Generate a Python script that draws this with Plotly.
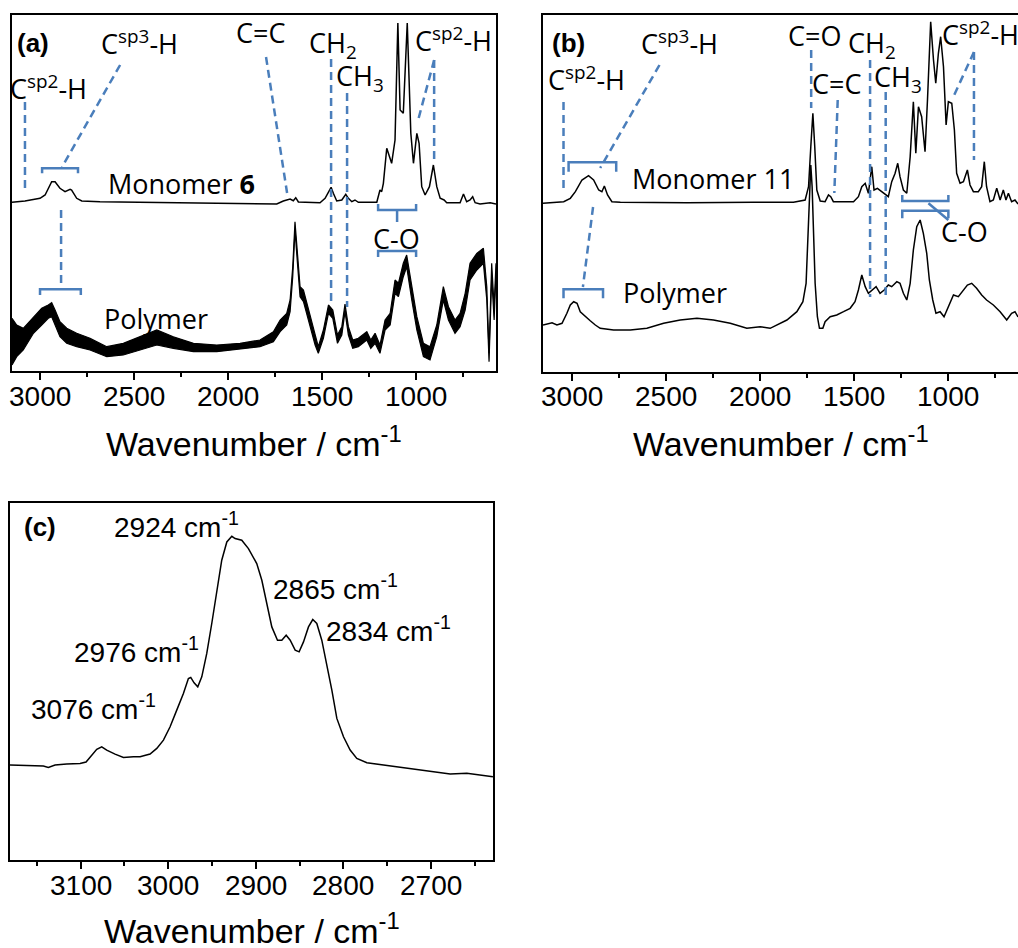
import plotly.graph_objects as go

# ---------------- data (intensity in arbitrary units) ----------------
# Panel (a)
a_mono_wn = [3149, 3080, 3000, 2973, 2938, 2920, 2894, 2867, 2840, 2832, 2805, 2778, 2681, 2326, 1972,
             1741, 1706, 1670, 1653, 1640, 1626, 1511, 1484, 1466, 1452, 1440, 1422, 1395, 1374, 1360,
             1342, 1325, 1307, 1209, 1192, 1183, 1174, 1156, 1142, 1130, 1112, 1097, 1085, 1068, 1047,
             1028, 1014, 996, 984, 970, 952, 929, 908, 890, 872, 851, 837, 766, 748, 731, 713, 699, 686,
             660, 606, 575]
a_mono_int = [168.7, 170, 172.7, 176, 189.3, 189.3, 182.7, 179.3, 181.7, 181, 172.7, 170, 169.3, 168.3,
              167.7, 167, 170, 172, 170.3, 173.3, 169, 168.3, 172.7, 179.3, 183.7, 177.7, 170, 171,
              176.7, 172.7, 169.3, 171, 168.7, 168.7, 181, 179.3, 187.7, 222.7, 214.3, 207.7, 231, 348,
              261, 257.7, 348, 237.7, 207.7, 237.7, 227.7, 184.3, 176, 184.3, 206, 184.3, 172.7, 171,
              168.3, 168.3, 177, 169.3, 171, 174.3, 168.3, 167, 168.3, 167]

a_poly_wn = [3149, 3124, 3089, 3035, 2991, 2956, 2938, 2920, 2894, 2858, 2805, 2734, 2645, 2557, 2468,
             2379, 2291, 2184, 2060, 1936, 1830, 1759, 1723, 1688, 1670, 1656, 1644, 1631, 1617, 1599,
             1573, 1537, 1520, 1493, 1466, 1443, 1418, 1395, 1378, 1360, 1337, 1307, 1262, 1241, 1218,
             1192, 1165, 1138, 1112, 1094, 1068, 1050, 1023, 996, 961, 926, 890, 855, 828, 793, 766,
             739, 713, 677, 642, 624, 612, 598, 585, 575]
a_poly_hi = [52.7, 46, 42.7, 54.3, 62.7, 66, 68.3, 61, 49.3, 42.7, 37.7, 32.7, 24.3, 27.7, 34.3, 41,
             34.3, 27.7, 26, 27.7, 31, 39.3, 51, 57.7, 71, 104.3, 149.3, 117.7, 84.3, 81, 62.7, 37.7,
             24.3, 41, 66, 61, 36, 44.3, 67, 44.3, 31, 32.7, 39.3, 31, 37.7, 26, 51, 57.7, 91, 87.7,
             107.7, 116, 84.3, 54.3, 27.7, 24.3, 46, 84.3, 64.3, 51, 57.7, 77.7, 107.7, 117.7, 122.7,
             84.3, 17.7, 107.7, 64.3, 107.7]
a_poly_lo = [6, 14.3, 21, 37.7, 46, 52.7, 54.3, 46, 34.3, 27.7, 24.3, 21, 14.3, 16, 21, 26, 22.7, 19.3,
             19.3, 21.7, 24.3, 29.3, 39.3, 46, 59.3, 94.3, 141, 107.7, 74.3, 69.3, 51, 26, 17.7, 32.7,
             57.7, 52.7, 27.7, 36, 59.3, 36, 22.7, 24.3, 31, 22.7, 27.7, 17.7, 41, 46, 77.7, 74.3, 94.3,
             104.3, 71, 41, 14.3, 11, 34.3, 71, 51, 37.7, 44.3, 61, 91, 101, 107.7, 71, 9.3, 94.3, 51,
             97.7]

# Panel (b)
b_mono_wn = [3154, 3097, 3044, 3009, 2982, 2947, 2912, 2885, 2858, 2841, 2828, 2811, 2788, 2743, 2389,
             2035, 1823, 1761, 1743, 1731, 1720, 1710, 1699, 1681, 1655, 1637, 1625, 1611, 1504, 1478,
             1460, 1442, 1425, 1407, 1395, 1377, 1354, 1336, 1319, 1301, 1283, 1269, 1257, 1239, 1221,
             1203, 1186, 1173, 1159, 1142, 1124, 1111, 1094, 1079, 1067, 1053, 1041, 1026, 1012, 1000,
             982, 968, 956, 938, 920, 899, 885, 867, 841, 823, 809, 797, 779, 761, 743, 725, 708, 694,
             681, 664, 646, 630]
b_mono_int = [168.7, 169.3, 170.3, 173.7, 180.3, 192, 196.3, 192, 182, 180.3, 186, 177, 170.3, 169.7,
              169.3, 169.7, 169.7, 172, 185.3, 225.3, 258.7, 225.3, 182, 171, 170.3, 177, 175.3, 170.3,
              170.3, 175.3, 185.3, 188.7, 178.7, 205.3, 182, 183.7, 180.3, 177, 175.3, 190.3, 198.7,
              208.7, 195.3, 182, 178.7, 215.3, 270.3, 218.7, 265.3, 255.3, 220.3, 272, 350.3, 312,
              288.7, 318.7, 335.3, 305.3, 247, 270.3, 268.7, 242, 198.7, 188.7, 190.3, 202, 187, 180.3,
              180.3, 185.3, 210.3, 185.3, 170.3, 172, 183.7, 172, 182, 172, 178.7, 170.3, 172, 168]

b_poly_wn = [3154, 3133, 3106, 3080, 3053, 3027, 3009, 2991, 2973, 2956, 2929, 2903, 2876, 2850, 2779,
             2690, 2602, 2513, 2425, 2336, 2248, 2159, 2071, 2000, 1947, 1911, 1858, 1805, 1773, 1756,
             1745, 1738, 1731, 1724, 1717, 1708, 1696, 1685, 1667, 1655, 1628, 1593, 1557, 1522, 1496,
             1478, 1460, 1442, 1425, 1407, 1384, 1363, 1341, 1319, 1301, 1274, 1257, 1239, 1221, 1203,
             1186, 1168, 1150, 1133, 1115, 1101, 1083, 1066, 1044, 1023, 1000, 973, 947, 920, 899, 876,
             850, 823, 797, 761, 725, 690, 664, 646, 630]
b_poly_int = [47, 48, 49.3, 47, 48.7, 58.7, 67, 70.3, 68.7, 60.3, 55.3, 51.3, 47, 43.7, 42, 42, 43.7,
              48.7, 52, 53.7, 52, 48.7, 43.7, 45.3, 43.7, 47, 52, 60.3, 70.3, 88.7, 138.7, 188.7, 207,
              185.3, 132, 88.7, 55.3, 43.7, 43.7, 50.3, 55.3, 57, 60.3, 63.7, 70.3, 82, 97, 85.3, 78.7,
              82, 85.3, 78.7, 82, 87, 85.3, 90.3, 88.7, 78.7, 72, 88.7, 122, 145.3, 152, 138.7, 118.7,
              92, 72, 58.7, 60.3, 55.3, 65.3, 77, 75.3, 82, 87, 88.7, 83.7, 77, 72, 67, 60.3, 52, 58.7,
              60.3, 55]

# Panel (c)
c_wn = [3180.8, 3161.7, 3142.7, 3137, 3129.3, 3116, 3100.8, 3093.9, 3087.4, 3081.7, 3076, 3070.3,
        3060.8, 3051.2, 3039.8, 3032.2, 3020.8, 3013.1, 3005.5, 2997.9, 2990.3, 2982.7, 2977, 2974.3,
        2970.5, 2966.3, 2961.7, 2956, 2950.3, 2944.6, 2938.9, 2933.1, 2927.4, 2923.6, 2916, 2908.4,
        2898.9, 2893.1, 2887.4, 2881.7, 2875.2, 2870.3, 2865.3, 2860.7, 2855, 2850.5, 2845.5, 2839.8,
        2834.9, 2830.3, 2824.6, 2818.9, 2813.1, 2807.4, 2799.8, 2792.2, 2784.6, 2773.1, 2754.1,
        2735.1, 2716, 2697, 2677.9, 2658.9, 2651.2, 2639.8, 2629.1]
c_int = [95, 94.3, 94, 92.7, 95, 96, 96.7, 98, 105, 110.7, 113.3, 110, 106, 102.7, 103.3, 103.3, 106,
         111.7, 120, 133.3, 150, 166.7, 181.7, 182.7, 177.3, 173.3, 183.3, 206.7, 236.7, 266.7, 300,
         318.3, 324, 321.7, 320, 311.7, 296.7, 280, 256.7, 233.3, 220, 220, 225, 220, 210, 208.3,
         218.3, 233.3, 240.7, 236.7, 220, 196.7, 170, 141.7, 123.3, 110, 101.7, 97.3, 95, 93.3, 90.7,
         88.3, 86, 86.7, 86, 85, 83.3]

# tick values / labels
ab_tickvals = [3000, 2500, 2000, 1500, 1000]
ab_ticktext = ["3000", "2500", "2000", "1500", "1000"]
ab_minorvals = [2750, 2250, 1750, 1250, 750]
c_tickvals = [3100, 3000, 2900, 2800, 2700]
c_ticktext = ["3100", "3000", "2900", "2800", "2700"]
c_minorvals = [3150, 3050, 2950, 2850, 2750, 2650]

# ---------------- styling ----------------
W, H = 1018, 948
BLUE = "#4A7EBB"
TICKFONT = "Liberation Sans, Arial, sans-serif"
LABFONT = "Open Sans, sans-serif"


def px_dom(x0, x1):
    return [x0 / W, x1 / W]


def py_dom(top, bottom):
    return [1 - bottom / H, 1 - top / H]


fig = go.Figure()

line_k = dict(color="black", width=1.5)
fig.add_trace(go.Scatter(x=a_mono_wn, y=a_mono_int, mode="lines", line=line_k, xaxis="x", yaxis="y"))
fig.add_trace(go.Scatter(x=a_poly_wn, y=a_poly_lo, mode="lines", line=dict(color="black", width=1.2),
                         xaxis="x", yaxis="y"))
fig.add_trace(go.Scatter(x=a_poly_wn, y=a_poly_hi, mode="lines", line=dict(color="black", width=1.2),
                         fill="tonexty", fillcolor="black", xaxis="x", yaxis="y"))
fig.add_trace(go.Scatter(x=b_mono_wn, y=b_mono_int, mode="lines", line=line_k, xaxis="x2", yaxis="y2"))
fig.add_trace(go.Scatter(x=b_poly_wn, y=b_poly_int, mode="lines", line=line_k, xaxis="x2", yaxis="y2"))
fig.add_trace(go.Scatter(x=c_wn, y=c_int, mode="lines", line=line_k, xaxis="x3", yaxis="y3"))
fig.update_traces(showlegend=False, hoverinfo="skip")


def xaxis(domain, rng, anchor, tv, mv):
    return dict(domain=domain, range=rng, anchor=anchor, showline=True, linecolor="black", linewidth=1.5,
                mirror=True, ticks="outside", ticklen=7, tickwidth=1.5, tickcolor="black",
                tickmode="array", tickvals=tv, showticklabels=False,
                minor=dict(tickmode="array", tickvals=mv, ticks="outside", ticklen=4, tickwidth=1.5,
                           tickcolor="black", showgrid=False),
                showgrid=False, zeroline=False, automargin=False)


def yaxis(domain, rng, anchor, mirror=True):
    return dict(domain=domain, range=rng, anchor=anchor, showline=True, linecolor="black", linewidth=1.5,
                mirror=mirror, ticks="", showticklabels=False, showgrid=False, zeroline=False,
                automargin=False)


fig.update_layout(
    width=W, height=H, margin=dict(l=0, r=0, t=0, b=0),
    paper_bgcolor="white", plot_bgcolor="white",
    xaxis=xaxis(px_dom(12, 496), [3149, 575], "y", ab_tickvals, ab_minorvals),
    yaxis=yaxis(py_dom(15, 371), [0, 356], "x"),
    xaxis2=xaxis(px_dom(543, W), [3154, 630], "y2", ab_tickvals, ab_minorvals),
    yaxis2=yaxis(py_dom(15, 372), [0, 357], "x2", mirror=False),
    xaxis3=xaxis(px_dom(10, 493), [3180.8, 2629], "y3", c_tickvals, c_minorvals),
    yaxis3=yaxis(py_dom(503, 860), [0, 357.3], "x3"),
)

shapes = []


def dashed(xr, yr, x0, y0, x1, y1):
    shapes.append(dict(type="line", xref=xr, yref=yr, x0=x0, y0=y0, x1=x1, y1=y1,
                       line=dict(color=BLUE, width=2.5, dash="8px,5px")))


def solid(xr, yr, x0, y0, x1, y1):
    shapes.append(dict(type="line", xref=xr, yref=yr, x0=x0, y0=y0, x1=x1, y1=y1,
                       line=dict(color=BLUE, width=2.5)))


def bracket(xr, yr, x1, x2, y, yt, xc=None, yc=None):
    path = f"M {x1},{yt} L {x1},{y} L {x2},{y} L {x2},{yt}"
    if xc is not None:
        path += f" M {xc},{y} L {xc},{yc}"
    shapes.append(dict(type="path", xref=xr, yref=yr, path=path, line=dict(color=BLUE, width=2.5)))


# panel (a) guides
for seg in [(3080, 269, 3080, 178), (2574, 306, 2883, 204), (2888, 161, 2888, 81),
            (1798, 314, 1686, 178), (1452, 312, 1452, 66), (1367, 278, 1367, 64),
            (904, 311, 904, 208), (904, 311, 989, 251)]:
    dashed("x", "y", *seg)
bracket("x", "y", 2989, 2798, 202.7, 197.7)
bracket("x", "y", 3000, 2783, 81.7, 76)
bracket("x", "y", 1202, 1000, 161, 167, 1101, 149)
bracket("x", "y", 1202, 1000, 120, 114)

# panel (b) guides
for seg in [(3045, 270, 3045, 179), (2535, 307, 2850, 204), (2888, 165, 2942, 85),
            (1729, 322, 1729, 264), (1588, 272, 1606, 179), (1416, 312, 1416, 75),
            (1333, 280, 1333, 74), (864, 320, 864, 212), (864, 320, 974, 275)]:
    dashed("x2", "y2", *seg)
bracket("x2", "y2", 3018, 2765, 209.7, 200.3)
bracket("x2", "y2", 3045, 2835, 82.7, 73.7)
bracket("x2", "y2", 1245, 1000, 171, 177)
bracket("x2", "y2", 1245, 1000, 161.3, 153.7)
solid("x2", "y2", 1106, 168.7, 1000, 152)

fig.update_layout(shapes=shapes)

ann = []


def label(xr, yr, x, y, text, size=27, family=LABFONT, xanchor="center"):
    ann.append(dict(xref=xr, yref=yr, x=x, y=y, text=text, showarrow=False, xanchor=xanchor,
                    yanchor="middle", font=dict(family=family, size=size, color="black")))


# tick labels (drawn at the axis tick values)
for xr, vals, texts, ypix in [("x", ab_tickvals, ab_ticktext, 397), ("x2", ab_tickvals, ab_ticktext, 397),
                              ("x3", c_tickvals, c_ticktext, 885)]:
    for v, t in zip(vals, texts):
        label(xr, "paper", v, 1 - ypix / H, t, 28, TICKFONT)

CSP2 = "C<sup>sp2</sup>-H"
CSP3 = "C<sup>sp3</sup>-H"
# (a)
label("x domain", "y domain", 0.006, 0.921, "<b>(a)</b>", 26, TICKFONT, "left")
label("x", "y", 2955, 283, CSP2)
label("x", "y", 2471, 328, CSP3)
label("x", "y", 1830, 338, "C=C")
label("x", "y", 1441, 326, "CH<sub>2</sub>")
label("x", "y", 1298, 293, "CH<sub>3</sub>")
label("x", "y", 801, 331, CSP2)
label("x", "y", 1106, 132, "C-O")
label("x", "y", 2250, 187, "Monomer <b>6</b>")
label("x", "y", 2383, 53, "Polymer")
# (b)
label("x2 domain", "y2 domain", 0.0147, 0.9216, "<b>(b)</b>", 26, TICKFONT, "left")
label("x2", "y2", 2430, 329, CSP3)
label("x2", "y2", 2924, 293, CSP2)
label("x2", "y2", 1713, 336, "C=O")
label("x2", "y2", 1597, 288, "C=C")
label("x2", "y2", 1405, 327, "CH<sub>2</sub>")
label("x2", "y2", 1267, 293, "CH<sub>3</sub>")
label("x2", "y2", 827, 338, CSP2)
label("x2", "y2", 912, 140, "C-O")
label("x2", "y2", 2249, 193, "Monomer 11")
label("x2", "y2", 2451, 80, "Polymer")
# (c)
label("x3 domain", "y3 domain", 0.025, 0.933, "<b>(c)</b>", 26, TICKFONT, "left")
CM = " cm<sup>-1</sup>"
label("x3", "y3", 2990.5, 335, "2924" + CM, 28, TICKFONT)
label("x3", "y3", 2809.4, 273, "2865" + CM, 28, TICKFONT)
label("x3", "y3", 3036.2, 210, "2976" + CM, 28, TICKFONT)
label("x3", "y3", 3085.4, 153, "3076" + CM, 28, TICKFONT)
label("x3", "y3", 2748.8, 231, "2834" + CM, 28, TICKFONT)

# axis titles
TITLE = "Wavenumber / cm<sup>-1</sup>"
label("x domain", "paper", 0.5, 1 - 442 / H, TITLE, 34, TICKFONT)
label("x2 domain", "paper", 0.5, 1 - 442 / H, TITLE, 34, TICKFONT)
label("x3 domain", "paper", 0.5, 1 - 928 / H, TITLE, 34, TICKFONT)

fig.update_layout(annotations=ann)

fig.write_html("out.html", config={"displayModeBar": False},
               post_script="document.body.style.margin='0';document.body.style.padding='0';")
